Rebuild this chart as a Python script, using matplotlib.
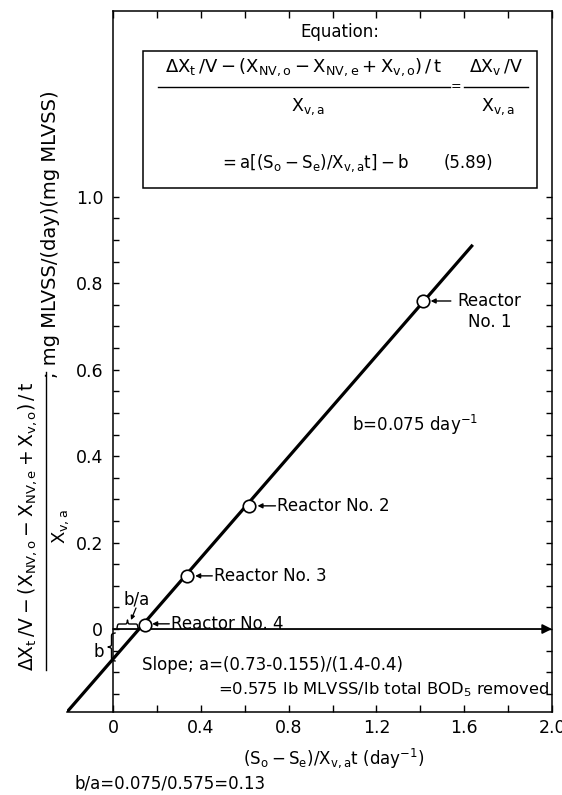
"""Observed growth vs. substrate removal for four reactors (Eq. 5.89 plot)."""
import numpy as np
import matplotlib
matplotlib.use("Agg")
import matplotlib.pyplot as plt

plt.rcParams["font.family"] = ["DejaVu Sans"]
plt.rcParams["mathtext.fontset"] = "dejavusans"
plt.rcParams["mathtext.default"] = "regular"

# values
reactor_names = ["No. 1", "No. 2", "No. 3", "No. 4"]
removal = [1.411, 0.621, 0.338, 0.146]      # (So-Se)/Xv,a t, day^-1
growth = [0.759, 0.285, 0.123, 0.009]       # net growth term
fit_x = [-0.21, 1.639]                      # drawn regression line
fit_y = [-0.192, 0.889]

x_major = [0, 0.4, 0.8, 1.2, 1.6, 2.0]
x_major_lbl = ["0", "0.4", "0.8", "1.2", "1.6", "2.0"]
x_minor = [0.2, 0.6, 1.0, 1.4, 1.8]
y_major = [0, 0.2, 0.4, 0.6, 0.8, 1.0]
y_major_lbl = ["0", "0.2", "0.4", "0.6", "0.8", "1.0"]
y_minor = [-0.15, -0.1, -0.05, 0.05, 0.1, 0.15, 0.25, 0.3, 0.35, 0.45, 0.5,
           0.55, 0.65, 0.7, 0.75, 0.85, 0.9, 0.95]

W, H = 562, 795
fig = plt.figure(figsize=(W / 100, H / 100), dpi=100)
ax = fig.add_axes([67 / W, 1 - 712 / H, (552 - 67) / W, (712 - 11) / H])
ax.set_xlim(-0.21, 2.0)
ax.set_ylim(-0.192, 1.43)

for s in ax.spines.values():
    s.set_linewidth(1.1)
ax.spines["left"].set_position(("data", 0))
ax.spines["top"].set_bounds(0, 2.0)

ax.set_xticks(x_major)
ax.set_xticklabels(x_major_lbl)
ax.set_xticks(x_minor, minor=True)
ax.set_yticks(y_major)
ax.set_yticklabels(y_major_lbl)
ax.set_yticks(y_minor, minor=True)
ax.tick_params(axis="x", which="both", direction="in", top=True, bottom=True,
               length=5, width=1, labelsize=12.5, pad=5)
ax.tick_params(axis="y", which="both", direction="in", left=True, right=True,
               length=4.5, width=1, labelsize=12.5, pad=7)

# regression line + reactors
ax.plot(fit_x, fit_y, color="k", lw=2.3, solid_capstyle="butt", zorder=3)
ax.plot(removal, growth, "o", ms=9, mfc="white", mec="k", mew=1.2, zorder=4)

# y = 0 reference arrow
ax.annotate("", xy=(2.0, 0), xytext=(0, 0),
            arrowprops=dict(arrowstyle="-|>", lw=1.3, color="k",
                            mutation_scale=14, shrinkA=0, shrinkB=0), zorder=2)

arr = dict(arrowstyle="-|>", lw=1.0, color="k", mutation_scale=7,
           shrinkA=0, shrinkB=0)
# reactor labels
ax.annotate("", xy=(1.447, growth[0]), xytext=(1.539, growth[0]), arrowprops=arr)
ax.text(1.715, growth[0], "Reactor", ha="center", va="center", fontsize=12)
ax.text(1.715, 0.711, reactor_names[0], ha="center", va="center", fontsize=12)
ax.annotate("", xy=(0.658, growth[1]), xytext=(0.740, growth[1]), arrowprops=arr)
ax.text(0.749, growth[1], "Reactor " + reactor_names[1], ha="left", va="center",
        fontsize=12)
ax.annotate("", xy=(0.374, growth[2]), xytext=(0.452, growth[2]), arrowprops=arr)
ax.text(0.461, growth[2], "Reactor " + reactor_names[2], ha="left", va="center",
        fontsize=12)
ax.annotate("", xy=(0.178, 0.012), xytext=(0.256, 0.012), arrowprops=arr)
ax.text(0.265, 0.0, "Reactor " + reactor_names[3], ha="left", va="baseline",
        fontsize=12)

ax.text(1.087, 0.472, r"b=0.075 day$^{-1}$", ha="left", va="center", fontsize=12)
ax.text(0.132, -0.083, "Slope; a=(0.73-0.155)/(1.4-0.4)", ha="left",
        va="center", fontsize=12)
ax.text(0.479, -0.141, r"=0.575 lb MLVSS/lb total BOD$_5$ removed", ha="left",
        va="center", fontsize=11.8)

# overlay in pixel coordinates for equation box, braces and axis titles
ov = fig.add_axes([0, 0, 1, 1], zorder=5)
ov.set_xlim(0, W)
ov.set_ylim(H, 0)
ov.axis("off")
ov.patch.set_alpha(0)

ov.text(340, 32, "Equation:", ha="center", va="center", fontsize=12)
ov.add_patch(plt.Rectangle((143, 51), 537 - 143, 188 - 51, fill=False,
                           lw=1.1, color="k"))
ov.text(304, 67, r"$\Delta X_t\,/V-(X_{NV,o}-X_{NV,e}+X_{v,o})\,/\,t$",
        ha="center", va="center", fontsize=13)
ov.plot([158, 450], [87, 87], color="k", lw=1.0)
ov.text(308, 107, r"$X_{v,a}$", ha="center", va="center", fontsize=12.5)
ov.text(456, 87, "=", ha="center", va="center", fontsize=9)
ov.text(496, 67, r"$\Delta X_v\,/V$", ha="center", va="center", fontsize=12.5)
ov.plot([464, 528], [87, 87], color="k", lw=1.0)
ov.text(498, 107, r"$X_{v,a}$", ha="center", va="center", fontsize=12.5)
ov.text(219, 163, r"$=a\left[(S_o-S_e)/X_{v,a}t\right]-b$", ha="left",
        va="center", fontsize=12)
ov.text(444, 163, "(5.89)", ha="left", va="center", fontsize=12)

# y label built as a rotated fraction
ov.text(28, 526, r"$\Delta X_t\,/V-(X_{NV,o}-X_{NV,e}+X_{v,o})\,/\,t$",
        rotation=90, ha="center", va="center", fontsize=13.5)
ov.plot([46, 46], [372, 670], color="k", lw=1.0)
ov.text(61, 526, r"$X_{v,a}$", rotation=90, ha="center", va="center",
        fontsize=13)
ov.text(51, 378, "; mg MLVSS/(day)(mg MLVSS)", rotation=90, ha="center",
        va="bottom", fontsize=14)

# x label and note
ov.text(334, 758, r"$(S_o-S_e)/X_{v,a}t\ (day^{-1})$", ha="center",
        va="center", fontsize=12)
ov.text(75, 783, "b/a=0.075/0.575=0.13", ha="left", va="center", fontsize=12)


def brace(length, height, n=60):
    t = np.linspace(0, length / 2, n)
    beta = 60.0 / length
    s = 1 / (1 + np.exp(-beta * t)) + 1 / (1 + np.exp(-beta * (t - length / 2)))
    s = (s - s[0]) / (s[-1] - s[0])
    tt = np.concatenate([t, length - t[::-1]])
    ss = np.concatenate([s, s[::-1]]) * height
    return tt, ss


# b/a brace along y = 0 (tip up)
bt, bs = brace(138 - 117, 8)
ov.plot(117 + bt, 628 - bs, color="k", lw=1.0)
ov.text(137, 600, "b/a", ha="center", va="center", fontsize=12)
ov.annotate("", xy=(131, 620), xytext=(136, 608),
            arrowprops=dict(arrowstyle="-|>", lw=0.9, color="k",
                            mutation_scale=6, shrinkA=0, shrinkB=0))
# b brace left of the axis (tip left)
vt, vs = brace(661 - 633, 7)
ov.plot(115 - vs, 633 + vt, color="k", lw=1.0)
ov.text(99, 652, "b", ha="center", va="center", fontsize=12)

fig.savefig("out.png", dpi=100)
